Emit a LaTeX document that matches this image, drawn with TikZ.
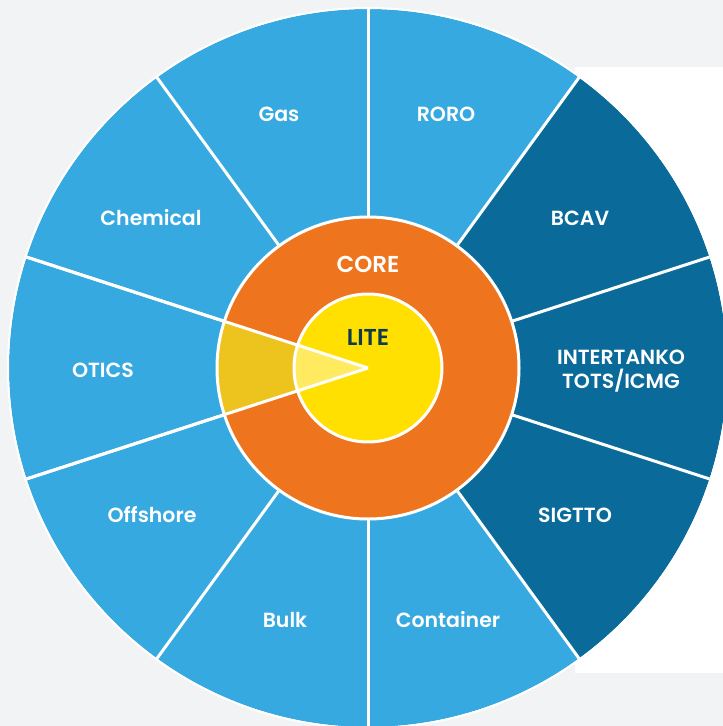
\documentclass[tikz,border=0pt]{standalone}
\usepackage{fontspec}
\setmainfont{Poppins}[UprightFont=* Medium,BoldFont=* SemiBold]
\definecolor{bgG}{HTML}{F2F3F5}
\definecolor{lblue}{HTML}{36A9E0}
\definecolor{dblue}{HTML}{0A6B9B}
\definecolor{orng}{HTML}{EE741D}
\definecolor{yel}{HTML}{FFE000}
\definecolor{gold}{HTML}{EDC41E}
\definecolor{lyel}{HTML}{FFEA60}
\definecolor{navy}{HTML}{0E3A4B}
\tikzset{
  lbl/.style={text=white,font=\bfseries\fontsize{20.5}{24}\selectfont,align=center,inner sep=0pt},
  big/.style={font=\bfseries\fontsize{23}{27}\selectfont,inner sep=0pt},
  sep/.style={white,line width=3pt},
}
\begin{document}
\begin{tikzpicture}[x=1pt,y=1pt]
\useasboundingbox (0,0) rectangle (723,726);
\fill[bgG] (0,0) rectangle (723,726);
\fill[white] (575,53) rectangle (723,659);
\begin{scope}
\clip (0,0) rectangle (723,726);
\coordinate (c) at (368,358);
\def\R{359}
% sectors
\foreach \a/\col in {90/lblue,54/dblue,18/dblue,-18/dblue,-54/lblue,-90/lblue,-126/lblue,-162/lblue,162/lblue,126/lblue}{
  \fill[\col] (c) -- ++(\a:\R) arc[start angle=\a,delta angle=-36,radius=\R] -- cycle;
}
\foreach \a in {90,54,18,-18,-54,-90,-126,-162,162,126}{
  \draw[sep] (c) -- ++(\a:\R);
}
\draw[white,line width=2pt] (c) circle[radius=\R+1];
% core ring
\fill[orng] (c) circle[radius=151];
\fill[gold] (c) -- ++(162:151) arc[start angle=162,end angle=198,radius=151] -- cycle;
\draw[white,line width=3pt] (c) circle[radius=151];
% lite
\fill[yel] (c) circle[radius=74];
\fill[lyel] (c) -- ++(162:74) arc[start angle=162,end angle=198,radius=74] -- cycle;
\draw[white,line width=3pt] (c) circle[radius=74];
\draw[sep] (c) -- ++(162:\R);
\draw[sep] (c) -- ++(198:\R);
\end{scope}
% labels
\node[lbl] (gas) at (279,612) {Gas};
\node[lbl] (roro) at (446,612) {RORO};
\node[lbl] (chem) at (151,508) {Chemical};
\node[lbl] (bcav) at (580,508) {BCAV};
\node[lbl] (otics) at (103,356) {OTICS};
\node[lbl] (inter) at (621,355) {INTERTANKO\\TOTS/ICMG};
\node[lbl] (off) at (152,211) {Offshore};
\node[lbl] (sig) at (575,211) {SIGTTO};
\node[lbl] (bulk) at (285,106) {Bulk};
\node[lbl] (cont) at (448,106) {Container};
\node[big,text=white] (core) at (368,462) {CORE};
\node[big,text=navy] (lite) at (368,389) {LITE};
\end{tikzpicture}
\end{document}
